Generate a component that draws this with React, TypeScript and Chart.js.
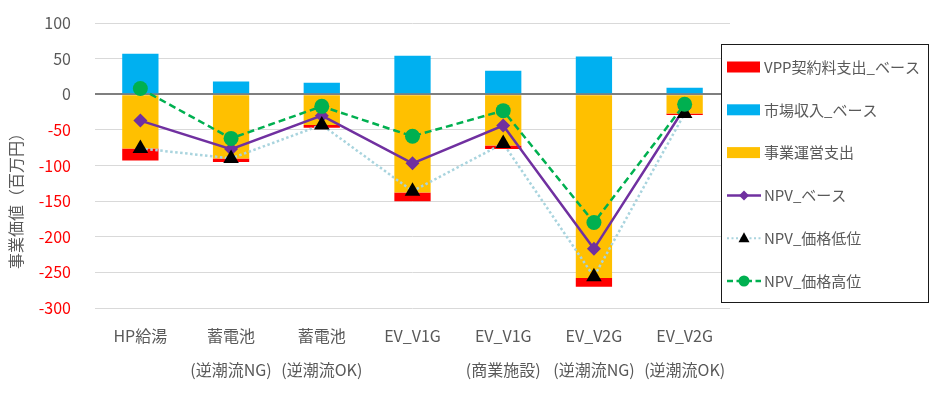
import React, { useEffect, useRef } from "react";
import { Chart, registerables } from "chart.js";

Chart.register(...registerables);

const categories: string[][] = [
  ["HP給湯"],
  ["蓄電池", "(逆潮流NG)"],
  ["蓄電池", "(逆潮流OK)"],
  ["EV_V1G"],
  ["EV_V1G", "(商業施設)"],
  ["EV_V2G", "(逆潮流NG)"],
  ["EV_V2G", "(逆潮流OK)"],
];
const vppFee = [-17, -5, -4, -12, -5, -12, -2];
const marketRevenue = [57, 18, 16, 54, 33, 53, 9];
const operatingCost = [-76, -90, -43, -138, -72, -258, -27];
const npvBase = [-37, -77, -30, -97, -44, -217, -19];
const npvLow = [-76, -90, -43, -136, -69, -256, -27];
const npvHigh = [8, -62, -17, -59, -23, -180, -14];
const yTicks = [100, 50, 0, -50, -100, -150, -200, -250, -300];

const seriesNames = [
  "VPP契約料支出_ベース",
  "市場収入_ベース",
  "事業運営支出",
  "NPV_ベース",
  "NPV_価格低位",
  "NPV_価格高位",
];
const yTitle = "事業価値（百万円）";

const RED = "#FF0000";
const BLUE = "#00B0F0";
const YELLOW = "#FFC000";
const PURPLE = "#7030A0";
const DOTBLUE = "#A9D4DE";
const GREEN = "#00B050";
const TEXT = "#595959";
const FONT = "'Noto Sans CJK JP', 'Noto Sans', sans-serif";

export default function App() {
  const ref = useRef<HTMLCanvasElement>(null);

  useEffect(() => {
    const canvas = ref.current!;

    const overlay = {
      id: "overlay",
      afterDraw(chart: any) {
        const ctx: CanvasRenderingContext2D = chart.ctx;
        // y axis title
        ctx.save();
        ctx.translate(16, 197);
        ctx.rotate(-Math.PI / 2);
        ctx.font = `16px ${FONT}`;
        ctx.fillStyle = TEXT;
        ctx.textAlign = "center";
        ctx.textBaseline = "middle";
        ctx.fillText(yTitle, 0, 0);
        ctx.restore();

        // legend box
        ctx.save();
        const bx = 721.5, by = 44.5, bw = 207, bh = 258;
        ctx.fillStyle = "#FFFFFF";
        ctx.fillRect(bx, by, bw, bh);
        ctx.strokeStyle = "#1a1a1a";
        ctx.lineWidth = 1;
        ctx.strokeRect(bx, by, bw, bh);

        const x0 = 727, x1 = 761, mx = 744;
        ctx.font = `15px ${FONT}`;
        ctx.textBaseline = "middle";
        ctx.textAlign = "left";
        seriesNames.forEach((name, i) => {
          const cy = 67 + i * 42.8;
          if (i < 3) {
            ctx.fillStyle = [RED, BLUE, YELLOW][i];
            ctx.fillRect(x0, cy - 5.5, 33, 11);
          } else if (i === 3) {
            ctx.strokeStyle = PURPLE;
            ctx.lineWidth = 2.5;
            ctx.setLineDash([]);
            ctx.beginPath();
            ctx.moveTo(x0, cy);
            ctx.lineTo(x1, cy);
            ctx.stroke();
            ctx.fillStyle = PURPLE;
            ctx.beginPath();
            ctx.moveTo(mx - 5, cy);
            ctx.lineTo(mx, cy - 5);
            ctx.lineTo(mx + 5, cy);
            ctx.lineTo(mx, cy + 5);
            ctx.closePath();
            ctx.fill();
          } else if (i === 4) {
            ctx.strokeStyle = DOTBLUE;
            ctx.lineWidth = 2;
            ctx.setLineDash([2, 2.5]);
            ctx.beginPath();
            ctx.moveTo(x0, cy);
            ctx.lineTo(x1, cy);
            ctx.stroke();
            ctx.setLineDash([]);
            ctx.fillStyle = "#000000";
            ctx.beginPath();
            ctx.moveTo(mx, cy - 6);
            ctx.lineTo(mx + 5.5, cy + 4);
            ctx.lineTo(mx - 5.5, cy + 4);
            ctx.closePath();
            ctx.fill();
          } else {
            ctx.strokeStyle = GREEN;
            ctx.lineWidth = 2.5;
            ctx.setLineDash([6, 3.5]);
            ctx.beginPath();
            ctx.moveTo(x0, cy);
            ctx.lineTo(x1, cy);
            ctx.stroke();
            ctx.setLineDash([]);
            ctx.fillStyle = GREEN;
            ctx.beginPath();
            ctx.arc(mx, cy, 5.5, 0, Math.PI * 2);
            ctx.fill();
          }
          ctx.fillStyle = TEXT;
          ctx.fillText(name, 764, cy);
        });
        ctx.restore();
      },
    };

    const chart = new Chart(canvas, {
      type: "bar",
      data: {
        labels: categories as any,
        datasets: [
          {
            type: "line",
            label: seriesNames[5],
            data: npvHigh,
            order: 0,
            borderColor: GREEN,
            borderWidth: 2.5,
            borderDash: [7, 4],
            backgroundColor: GREEN,
            pointStyle: "circle",
            pointRadius: 7.5,
            pointBorderWidth: 0,
            pointBackgroundColor: GREEN,
            tension: 0,
          } as any,
          {
            type: "line",
            label: seriesNames[4],
            data: npvLow,
            order: 1,
            borderColor: DOTBLUE,
            borderWidth: 2.5,
            borderDash: [2.5, 2.5],
            backgroundColor: "#000000",
            pointStyle: "triangle",
            pointRadius: 9,
            pointBorderWidth: 0,
            pointBackgroundColor: "#000000",
            tension: 0,
          } as any,
          {
            type: "line",
            label: seriesNames[3],
            data: npvBase,
            order: 2,
            borderColor: PURPLE,
            borderWidth: 2.5,
            backgroundColor: PURPLE,
            pointStyle: "rectRot",
            pointRadius: 7,
            pointBorderWidth: 0,
            pointBackgroundColor: PURPLE,
            tension: 0,
          } as any,
          {
            label: seriesNames[2],
            data: operatingCost,
            order: 3,
            stack: "a",
            backgroundColor: YELLOW,
            barPercentage: 0.4,
            categoryPercentage: 1,
          },
          {
            label: seriesNames[0],
            data: vppFee,
            order: 4,
            stack: "a",
            backgroundColor: RED,
            barPercentage: 0.4,
            categoryPercentage: 1,
          },
          {
            label: seriesNames[1],
            data: marketRevenue,
            order: 5,
            stack: "a",
            backgroundColor: BLUE,
            barPercentage: 0.4,
            categoryPercentage: 1,
          },
        ],
      },
      options: {
        responsive: false,
        animation: false,
        devicePixelRatio: 1,
        layout: { padding: { top: 23, right: 211, left: 0, bottom: 0 } },
        plugins: {
          legend: { display: false },
          tooltip: { enabled: false },
        },
        scales: {
          x: {
            grid: { display: false, drawTicks: false },
            border: { display: false },
            ticks: {
              autoSkip: false,
              maxRotation: 0,
              minRotation: 0,
              padding: 11,
              color: TEXT,
              font: { family: FONT, size: 16, lineHeight: 2.125 },
            },
            afterFit(scale: any) {
              scale.height = 87;
              scale.paddingLeft = 0;
              scale.paddingRight = 0;
              scale.paddingTop = 0;
              scale.paddingBottom = 0;
            },
          },
          y: {
            min: -300,
            max: 100,
            grid: {
              drawTicks: false,
              color: (c: any) => (c.tick && c.tick.value === 0 ? "#7F7F7F" : "#D9D9D9"),
              lineWidth: (c: any) => (c.tick && c.tick.value === 0 ? 2 : 1),
            },
            border: { display: false },
            ticks: {
              padding: 24,
              color: (c: any) => (c.tick && c.tick.value < 0 ? RED : TEXT),
              font: { family: FONT, size: 16 },
            },
            afterBuildTicks(scale: any) {
              scale.ticks = yTicks.map((v) => ({ value: v }));
            },
            afterFit(scale: any) {
              scale.width = 95;
              scale.paddingLeft = 0;
              scale.paddingRight = 0;
              scale.paddingTop = 0;
              scale.paddingBottom = 0;
            },
          },
        },
      },
      plugins: [overlay],
    });

    return () => chart.destroy();
  }, []);

  return (
    <div style={{ position: "fixed", left: 0, top: 0, width: 941, height: 395, background: "#FFFFFF" }}>
      <canvas ref={ref} width={941} height={395} style={{ display: "block", width: 941, height: 395 }} />
    </div>
  );
}
